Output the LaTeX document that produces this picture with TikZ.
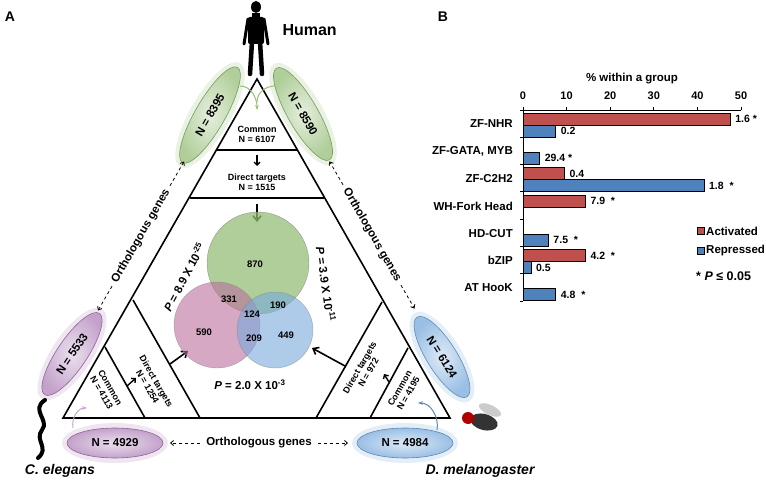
\documentclass[tikz,border=0pt]{standalone}
\usepackage{fontspec}
\setmainfont{Liberation Sans}
\usetikzlibrary{arrows.meta,calc}
\definecolor{actc}{RGB}{192,80,77}
\definecolor{repc}{RGB}{79,129,189}
\definecolor{grn}{RGB}{150,190,120}
\definecolor{prp}{RGB}{175,130,185}
\definecolor{blu}{RGB}{120,170,220}
\begin{document}
\begin{tikzpicture}[x=1pt,y=-1pt,font=\bfseries,
  edge/.style={line width=1.6pt},
  big/.style={-{Straight Barb[length=5pt,width=8pt]},line width=1.6pt},
  small/.style={-{Straight Barb[length=3pt,width=6pt]},line width=1.4pt},
  orth/.style={dashed,line width=0.8pt,-{Straight Barb[length=3pt,width=5pt]}},
  tx/.style={font=\bfseries\fontsize{9}{10}\selectfont,align=center,inner sep=0pt},
  nl/.style={font=\bfseries\fontsize{11.5}{12}\selectfont,inner sep=0pt},
  pl/.style={font=\bfseries\fontsize{11.5}{12}\selectfont},
  curv/.style={-{Stealth[length=5pt]},line width=1pt},
  bar/.style={draw=black,line width=0.7pt},
  cat/.style={anchor=east,font=\bfseries\fontsize{11.5}{12}\selectfont,inner sep=0pt},
  val/.style={anchor=west,font=\bfseries\fontsize{10.5}{11}\selectfont,inner sep=0pt}]
\useasboundingbox (0,0) rectangle (766,481);
\node[font=\bfseries\fontsize{14}{16}\selectfont] at (10,17) {A};
\node[font=\bfseries\fontsize{14}{16}\selectfont] at (443,17) {B};

% ---- triangle
\coordinate (T) at (257,79);
\coordinate (L) at (63,418);
\coordinate (R) at (450,418);
\draw[edge] (T) -- (L) -- (R) -- cycle;
\draw[edge] (217,150) -- (297,150);
\draw[edge] (190,198) -- (324,198);
\draw[edge] (105,347) -- (145,418);
\draw[edge] (133,300) -- (200,418);
\draw[edge] (408,348) -- (370,418);
\draw[edge] (382,302) -- (316,418);

% ---- ellipses
\tikzset{ell/.style={draw=#1!80!black,line width=0.6pt,inner color=#1!25,outer color=#1!75}}
\foreach \c/\x/\y/\r/\a/\t/\n in {grn/210/115/60/55/8395/e1,grn/303/114/-60/53/8590/e2,prp/72/354/56/49/5533/e3,blu/442/357/-58/47/6124/e4,prp/115/443/0/48/4929/e5,blu/405/443/0/48/4984/e6}{
  \fill[\c!45,opacity=0.45,rotate around={\r:(\x,\y)}] (\x,\y) ellipse ({\a+5} and 20);
  \shade[ell=\c,rotate around={\r:(\x,\y)}] (\x,\y) ellipse ({\a} and 15);
  \node[nl,rotate=\r] (\n) at (\x,\y) {N = \t};
}

% curved arrows into corners
\coordinate (a1) at (240,86); \coordinate (a2) at (275,86); \coordinate (at) at (257,110);
\draw[curv,grn] (a1) to[out=0,in=90] (at);
\draw[grn,line width=1pt] (a2) to[out=180,in=90] (257,102);
\coordinate (b1) at (73,428); \coordinate (b2) at (87,408);
\draw[curv,prp!70] (b1) to[out=100,in=180] (b2);
\coordinate (c1) at (437,430); \coordinate (c2) at (418,403);
\draw[curv,blu!80!black] (c1) to[out=80,in=0] (c2);

% ---- top texts
\node[tx] (com1) at (257,134) {Common\\N = 6107};
\node[tx] (dir1) at (257,182) {Direct targets\\N = 1515};
\draw[small] (257,155) -- (257,166);
\draw[big] (257,204) -- (257,222);
\node[tx,rotate=-60] (com2) at (106,390) {Common\\N = 4113};
\node[tx,rotate=-60] (dir2) at (152,384) {Direct targets\\N = 1254};
\draw[small] (127,386) -- (136,378);
\draw[big] (170,364) -- (188,351);
\node[tx,rotate=60] (dir3) at (364,370) {Direct targets\\N = 972};
\draw[small] (389,382) -- (384,374);
\node[tx,rotate=60] (com3) at (404,391) {Common\\N = 4195};
\draw[big] (345,366) -- (312,348);

% ---- venn
\fill[grn,opacity=0.75,draw=black!50] (258,263) circle (51);
\fill[prp!85!red,opacity=0.6,draw=black!50] (217,325) circle (43);
\fill[blu,opacity=0.6,draw=black!50] (275,330) circle (38);
\foreach \p/\t in {{255,264}/870,{229,299}/331,{278,305}/190,{252,314}/124,{204,332}/590,{254,338}/209,{286,335}/449}
  \node[font=\bfseries\fontsize{9.5}{10}\selectfont] at (\p) {\t};
\node[pl,rotate=62] at (184,277) {\textit{P} = 8.9 X 10\textsuperscript{-25}};
\node[pl,rotate=-82] at (326,284) {\textit{P} = 3.9 X 10\textsuperscript{-11}};
\node[pl] at (250,385) {\textit{P} = 2.0 X 10\textsuperscript{-3}};

% ---- orthologous arrows
\node[pl,rotate=60] (o1) at (141,236) {Orthologous genes};
\draw[orth] ($(o1)+(120:-58)$) -- ($(o1)+(120:-86)$);
\draw[orth] ($(o1)+(120:58)$) -- ($(o1)+(120:86)$);
\node[pl,rotate=-60] (o2) at (372,235) {Orthologous genes};
\draw[orth] ($(o2)+(60:-58)$) -- ($(o2)+(60:-85)$);
\draw[orth] ($(o2)+(60:58)$) -- ($(o2)+(60:85)$);
\node[pl] (o3) at (259,443) {Orthologous genes};
\draw[orth] (o3.west) ++(-3,0) -- (170,443);
\draw[orth] (o3.east) ++(3,0) -- (348,443);

% ---- organisms
\node[font=\bfseries\fontsize{16}{18}\selectfont,anchor=west] at (279,30) {Human};
\fill (256,7) ellipse (5 and 6);
\fill (252,13) rectangle (260,17);
\fill[rounded corners=2pt] (248,17) rectangle (264,44);
\draw[line width=3pt,line cap=round] (248,19) -- (244,44);
\draw[line width=3pt,line cap=round] (264,19) -- (268,44);
\draw[line width=4.5pt,line cap=round] (252,42) -- (250,74);
\draw[line width=4.5pt,line cap=round] (260,42) -- (262,74);
\draw[line width=4pt,line cap=round] (45,400) .. controls (30,410) and (50,420) .. (42,430) .. controls (34,440) and (50,448) .. (38,458);
\node[font=\bfseries\itshape\fontsize{14}{16}\selectfont] at (60,471) {C. elegans};
\node[font=\bfseries\itshape\fontsize{14}{16}\selectfont] at (480,471) {D. melanogaster};
\fill[black!80,rotate around={-15:(484,422)}] (484,422) ellipse (14 and 8);
\fill[red!70!black] (468,418) circle (6);
\fill[black!25,opacity=0.8,rotate around={-25:(490,410)}] (490,410) ellipse (12 and 5);

% ---- chart B
\def\X#1{523+4.36*#1}
\node[font=\bfseries\fontsize{11.5}{12}\selectfont] at (632,79) {\% within a group};
\draw[line width=0.8pt] (523,110) -- (741,110);
\draw[line width=0.8pt] (523,110) -- (523,301);
\foreach \v in {0,10,...,50}{
  \draw[line width=0.8pt] ({\X{\v}},110) -- ({\X{\v}},107);
  \node[font=\bfseries\fontsize{11}{12}\selectfont] at ({\X{\v}},96) {\v};}
\foreach \y in {110,137.3,...,302}\draw[line width=0.8pt] (520,\y) -- (523,\y);
\foreach \i/\l in {0/ZF-NHR,1/{ZF-GATA, MYB},2/ZF-C2H2,3/WH-Fork Head,4/HD-CUT,5/bZIP,6/AT HooK}
  \node[cat] at (513,{124+27.3*\i}) {\l};
\foreach \i/\v/\t in {0/47.5/{1.6 *},2/9.5/{0.4},3/14.3/{7.9 \ *},5/14.3/{4.2 \ *}}{
  \draw[bar,fill=actc] (523,{113+27.3*\i}) rectangle ({\X{\v}},{125+27.3*\i});
  \node[val] at ({\X{\v}+5},{119+27.3*\i}) {\t};}
\foreach \i/\v/\t in {0/7.5/{0.2},1/3.8/{29.4 *},2/41.5/{1.8 \ *},4/5.8/{7.5 \ *},5/1.8/{0.5},6/7.5/{4.8 \ *}}{
  \draw[bar,fill=repc] (523,{125+27.3*\i}) rectangle ({\X{\v}},{137+27.3*\i});
  \node[val] at ({\X{\v}+5},{131+27.3*\i}) {\t};}
\draw[bar,fill=actc] (697,227) rectangle (704,234);
\node[anchor=west,font=\bfseries\fontsize{11.5}{12}\selectfont,inner sep=0pt] at (706,231) {Activated};
\draw[bar,fill=repc] (697,247) rectangle (704,254);
\node[anchor=west,font=\bfseries\fontsize{11.5}{12}\selectfont,inner sep=0pt] at (706,251) {Repressed};
\node[anchor=west,font=\bfseries\fontsize{12.5}{13}\selectfont,inner sep=0pt] at (696,276) {* \textit{P} ≤ 0.05};
\end{tikzpicture}
\end{document}
